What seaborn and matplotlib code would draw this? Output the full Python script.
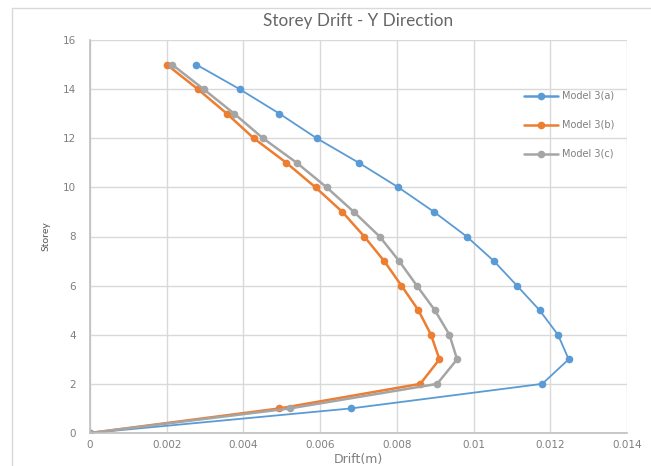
import matplotlib
matplotlib.use("Agg")
import matplotlib.pyplot as plt
from matplotlib.patches import Rectangle
import seaborn as sns
import pandas as pd

storeys = list(range(0, 16))
drift_a = [0, 0.00680, 0.01179, 0.01248, 0.01220, 0.01172, 0.01113, 0.01053,
           0.00982, 0.00897, 0.00804, 0.00701, 0.00591, 0.00494, 0.00390, 0.00277]
drift_b = [0, 0.00494, 0.00861, 0.00911, 0.00889, 0.00856, 0.00812, 0.00767,
           0.00715, 0.00658, 0.00588, 0.00512, 0.00427, 0.00357, 0.00281, 0.00200]
drift_c = [0, 0.00521, 0.00905, 0.00957, 0.00937, 0.00899, 0.00852, 0.00806,
           0.00755, 0.00688, 0.00617, 0.00539, 0.00451, 0.00376, 0.00296, 0.00214]
models = ["Model 3(a)", "Model 3(b)", "Model 3(c)"]
colors = ["#5B9BD5", "#ED7D31", "#A5A5A5"]
x_ticks = [0, 0.002, 0.004, 0.006, 0.008, 0.010, 0.012, 0.014]
x_tick_labels = ["0", "0.002", "0.004", "0.006", "0.008", "0.01", "0.012", "0.014"]
y_ticks = [0, 2, 4, 6, 8, 10, 12, 14, 16]

frames = []
for name, vals in zip(models, [drift_a, drift_b, drift_c]):
    frames.append(pd.DataFrame({"Storey": storeys, "Drift": vals, "Model": name}))
df = pd.concat(frames, ignore_index=True)

sns.set_theme(style="white")
plt.rcParams["font.family"] = ["DejaVu Sans"]
text_color = "#7F7F7F"

fig = plt.figure(figsize=(6.51, 4.66), dpi=100)
ax = fig.add_axes([90 / 651, 1 - 433 / 466, (627 - 90) / 651, (433 - 40) / 466])

sns.lineplot(data=df, x="Drift", y="Storey", hue="Model", palette=colors,
             sort=False, estimator=None, marker="o", markersize=5.5,
             markeredgewidth=0, linewidth=1.8, ax=ax, legend=True)
for line, lw in zip(ax.lines[:3], [1.3, 1.8, 1.8]):
    line.set_linewidth(lw)

ax.set_xlim(0, 0.014)
ax.set_ylim(0, 16)
ax.set_xticks(x_ticks)
ax.set_xticklabels(x_tick_labels)
ax.set_yticks(y_ticks)
ax.grid(True, color="#D9D9D9", linewidth=1.0)
ax.set_axisbelow(True)
for side in ["top", "right"]:
    ax.spines[side].set_visible(False)
for side in ["left", "bottom"]:
    ax.spines[side].set_color("#BFBFBF")
    ax.spines[side].set_linewidth(1.2)
ax.tick_params(axis="both", length=0, labelsize=7.5, labelcolor=text_color)
ax.tick_params(axis="x", pad=5)
ax.tick_params(axis="y", pad=10)

ax.set_xlabel("Drift(m)", fontsize=9, color=text_color, labelpad=2)
ax.set_ylabel("Storey", fontsize=7.5, color="#595959", labelpad=9,
              family=["Lato", "DejaVu Sans"])
ax.set_title("Storey Drift - Y Direction", fontsize=12.3, color="#666666",
             pad=10, family=["Lato", "DejaVu Sans"])

leg = ax.legend(loc="upper left", bbox_to_anchor=(524 / 651, 1 - 91 / 466),
                bbox_transform=fig.transFigure, frameon=False, fontsize=7,
                labelspacing=1.95, handlelength=3.5, handletextpad=0.45,
                borderaxespad=0, borderpad=0)
for t in leg.get_texts():
    t.set_color(text_color)

fig.patches.append(Rectangle((12 / 651, -0.1), 2, 1.1 - 8 / 466,
                             transform=fig.transFigure, fill=False,
                             edgecolor="#D9D9D9", linewidth=1.0))

fig.savefig("out.png", dpi=100)
